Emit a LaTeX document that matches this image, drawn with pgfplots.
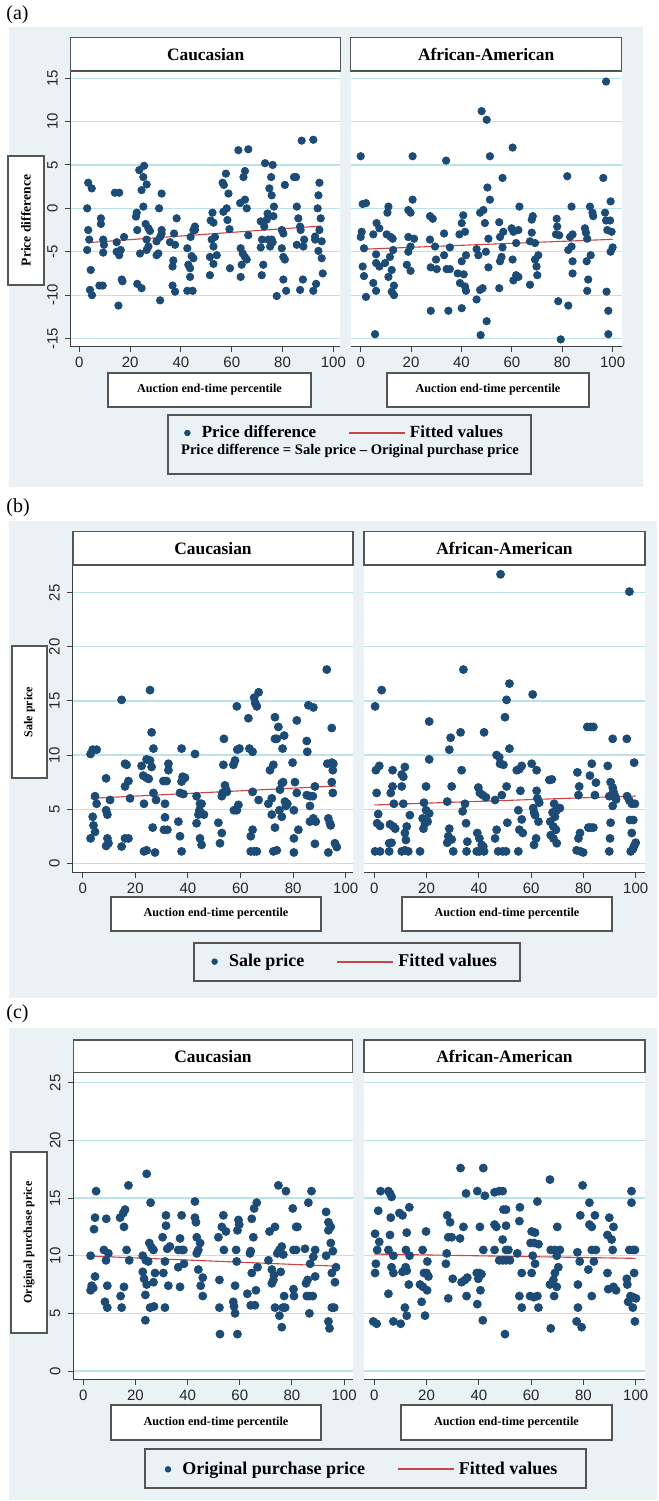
\documentclass[border=0pt]{standalone}
\usepackage{fontspec}
\setmainfont{Liberation Serif}
\setsansfont{Liberation Sans}
\usepackage{pgfplots}
\pgfplotsset{compat=1.18}
\definecolor{bgc}{RGB}{234,242,245}
\definecolor{dotc}{RGB}{28,76,117}
\definecolor{fitc}{RGB}{204,68,68}
\definecolor{gridc}{RGB}{188,226,236}
\definecolor{boxc}{RGB}{85,85,85}
\pgfplotsset{
 panel/.style={scale only axis, clip=false,
   axis background/.style={fill=white},
   axis x line=bottom, axis y line=left,
   axis line style={-, draw=black!75, line width=0.5pt},
   tick align=outside, major tick length=2.6pt,
   tick style={black!75, line width=0.5pt},
   xtick={0,20,...,100}, ymajorgrids=true,
   grid style={gridc, line width=0.6pt},
   tick label style={font=\sffamily\fontsize{7.5}{8}\selectfont, text=black!85},
   /pgf/number format/assume math mode=true,
   yticklabel style={xshift=-6.5pt, rotate=90, anchor=center},
   xticklabel shift=-1pt, yticklabel shift=0pt,
 },
 noy/.style={y axis line style={draw=none}, ytick style={draw=none}, yticklabels={,,,,,,,,}},
 dots/.style={only marks, mark=*, mark size=#1, mark options={draw=dotc, fill=dotc}, forget plot},
 fit/.style={fitc, line width=0.55pt, forget plot},
 leg/.style={legend columns=2, legend style={at={#1}, anchor=center, draw=none, fill=none,
   /tikz/every even column/.append style={column sep=14pt}}},
}
\newcommand{\legdot}{\addlegendimage{legend image code/.code={\fill[opacity=0] (0pt,-1pt) rectangle (8pt,1pt); \fill[dotc] (3pt,0pt) circle (1.4pt);}}}
\newcommand{\legline}{\addlegendimage{legend image code/.code={\draw[fitc, line width=0.9pt] (0pt,0pt) -- (28pt,0pt);}}}
\begin{document}
\begin{tikzpicture}
\begin{scope}[x=0.5pt,y=-0.5pt]
\useasboundingbox[fill=white] (0,0) rectangle (659,1501);
\fill[bgc] (9,27) rectangle (643,487);
\fill[bgc] (9,521) rectangle (657,998);
\fill[bgc] (9,1028) rectangle (657,1500);
\node[font=\fontsize{10}{12}\selectfont, anchor=west, inner sep=0pt] at (6,15) {(a)};
\node[font=\fontsize{10}{12}\selectfont, anchor=west, inner sep=0pt] at (6,508) {(b)};
\node[font=\fontsize{10}{12}\selectfont, anchor=west, inner sep=0pt] at (6,1014) {(c)};
\end{scope}

% ---------------- (a) ----------------
\begin{axis}[panel, at={(35.35pt,-173.35pt)}, anchor=south west,
  width=134.65pt, height=137.85pt, xmin=-3.39, xmax=102.6, ymin=-15.94, ymax=15.82,
  ytick={-15,-10,...,15}, leg={(1.0149,-0.313)},
  legend style={font=\bfseries\fontsize{8.5}{10}\selectfont}]
\addplot[dots=1.85pt] coordinates {(3.5,2.95)(4.9,2.3)(3.1,0)(3.5,-2.5)(3.9,-3.6)(3.1,-4.8)(4.5,-7.1)(4.2,-9.4)(5,-10)(7.9,-8.9)(9.2,-8.9)(8.5,-1.15)(8.5,-1.8)(9.4,-3.6)(9.7,-4.2)(9.4,-5.1)(14,1.8)(15.7,1.8)(14.7,-3.9)(14.7,-5)(15.7,-5.4)(16.3,-4.8)(15.4,-11.2)(16.7,-8.2)(17,-8.4)(17.6,-3.3)(22.6,-0.5)(22.3,-0.95)(22.8,-2.5)(23.9,-5.2)(22.8,-8.7)(24.5,-9.2)(23.6,4.4)(25.5,4.9)(25.2,3.6)(24.5,2.1)(25.2,0.2)(26.5,2.75)(26.1,-1.8)(27.2,-2.3)(27.8,-2.6)(26.5,-3.6)(27.2,-4.4)(26.5,-4.8)(31.4,0)(32.4,1.7)(32.4,-2.5)(30.4,-3.8)(31.1,-5.2)(30.4,-5.4)(31.8,-10.6)(32.4,-2.9)(31.8,-3.3)(35.7,-3.9)(37.3,-2.9)(38.3,-1.15)(36.7,-6.7)(37,-6)(37.7,-4.2)(36.7,-8.9)(37.7,-9.6)(42.5,-4.6)(42.9,-6.5)(43.6,-6.9)(43.6,-7.9)(44.2,-5.5)(44.9,-5.75)(43.8,-3.3)(44.9,-2.5)(45.5,-2.1)(45.5,-2.5)(42.5,-9.5)(44.6,-9.5)(51.4,-5.6)(51.4,-7.7)(52.4,-0.5)(51.7,-1.4)(52.8,-1.65)(52.1,-3.6)(52.8,-4.4)(53.4,-3.3)(54.1,-5.4)(52.8,-6.4)(56.4,2.95)(57.7,4)(56.9,2.7)(58.7,1.7)(56.7,-0.4)(58,0)(58.3,-1.35)(59.1,-2.4)(59.3,-6.9)(62.6,6.7)(66.5,6.8)(65.2,4.3)(64.6,3.6)(63.3,0.6)(65.2,1)(65.9,0)(66.5,-3.1)(63.5,-4.6)(64.3,-5.2)(65.2,-5.6)(65.9,-5.9)(63.9,-6.5)(63.5,-7.9)(71.4,-4.5)(71.9,-3.6)(71.4,-1.5)(71.8,-7.7)(72.4,-6.5)(73.1,5.2)(72.8,-2.1)(73.8,-1.3)(74.1,-0.6)(74.4,-3.6)(75.1,-4.4)(74.8,2.3)(75.7,1.5)(75.5,3.6)(76.1,5)(76.6,0.2)(76.4,-0.9)(75.7,-3.6)(77.7,-10.1)(76.1,-3.9)(79.7,-2.5)(80.3,-2.9)(79.7,-4.6)(80.3,-5.6)(80.9,-5.9)(80.3,-8.2)(81.4,-9.5)(80.9,2.7)(84.5,3.6)(85.3,3.6)(85.6,0.2)(85.6,-4.2)(86.2,-1.15)(86.9,-2.1)(87.1,-2.5)(87.5,7.8)(86.9,-9.4)(88,-8.2)(88.2,-4.4)(88.5,-3.6)(92.1,7.9)(92.8,-3.25)(92.8,-3.6)(93.2,-8.7)(92.1,-9.5)(93.8,0)(94.5,2.95)(94.1,1.5)(95,-1.15)(94.5,-2.5)(94.1,-4.9)(95.4,-3.8)(95.4,-5.75)(95.8,-7.5)};
\addplot[fit] coordinates {(3.5,-3.95) (95.4,-2.03)};
\legdot \addlegendentry{Price difference}
\legline \addlegendentry{Fitted values}
\end{axis}
\begin{axis}[panel, noy, at={(175.35pt,-173.35pt)}, anchor=south west,
  width=135.5pt, height=137.85pt, xmin=-3.97, xmax=103.6, ymin=-15.94, ymax=15.82,
  ytick={-15,-10,...,15}]
\addplot[dots=1.85pt] coordinates {(0,6.0)(0.8,0.5)(2.1,0.6)(0.4,-2.7)(0,-3.3)(1.3,-4.6)(0.8,-6.7)(1.3,-7.8)(2.1,-10.2)(5.7,-14.5)(5,-3.0)(6.3,-1.7)(7.4,-2.3)(6.1,-6.3)(7.4,-6.7)(6.1,-5.3)(5,-8.6)(6.1,-9.5)(9.7,-6.3)(11,0.2)(10.6,-0.5)(10.3,-3.0)(11.9,-3.3)(12.7,-3.5)(11.6,-5.6)(12.9,-4.8)(12.3,-7.1)(11,-7.9)(13.2,-8.9)(12.3,-9.6)(13.2,-10)(18.9,-0.2)(19.8,-0.5)(20.6,1.0)(20.6,6.0)(18.9,-3.3)(21.2,-3.5)(18.9,-5.0)(18.3,-6.5)(19.8,-7.2)(19.8,-4.4)(27.5,-0.9)(28.6,-1.2)(27.5,-3.6)(29.5,-4.4)(29.9,-5.9)(27.8,-6.8)(30.2,-7.0)(27.8,-11.8)(33.1,-2.9)(33.1,-5.4)(33.9,5.5)(35.4,-4.5)(34.1,-7.0)(35.4,-7.0)(34.8,-11.8)(40.1,-1.7)(40.7,-0.8)(39.2,-3.0)(41.4,-2.7)(41.8,-5.4)(40.1,-6.1)(38.5,-7.5)(40.9,-7.6)(39.4,-8.6)(41.4,-9.0)(41.8,-9.5)(40.1,-11.5)(46,-4.7)(46.7,-5.4)(46,-10.5)(47.4,-9.4)(48.4,-9.2)(47.6,-14.6)(48,11.2)(50,10.2)(47.4,-0.5)(48.7,-0.2)(49.3,-1.7)(49.7,-5.0)(50.7,-3.5)(50.7,-6.8)(50,-13.0)(51.3,6.0)(50.3,2.4)(51.3,1.0)(55,-9.2)(55,-1.6)(55.3,-3.3)(56.6,-2.7)(56.3,-4.5)(55.9,-5.6)(55.3,-6.1)(56.3,3.5)(60.3,7.0)(59.9,-2.3)(60.6,-2.7)(62.6,-2.5)(61.7,-4.0)(60.3,-5.9)(61.7,-7.7)(62.6,-7.9)(60.6,-8.3)(63,0.2)(68.3,-0.9)(67.9,-1.3)(67.9,-2.8)(67.2,-3.8)(69.2,-4.0)(70.5,-5.4)(69.2,-5.9)(69.8,-6.7)(70.1,-7.7)(67.2,-8.8)(77.8,-1.2)(78,-2.1)(77.5,-3.0)(78.8,-3.1)(82,3.7)(83.7,0.2)(83.1,-3.3)(84.1,-3.0)(82.4,-4.8)(83.7,-4.4)(84.1,-6.1)(84.1,-7.5)(78.4,-10.7)(82.4,-11.2)(79.4,-15.1)(89,-2.3)(89.4,-2.8)(89.9,-3.5)(91,0.2)(92,-0.5)(92.3,-0.9)(91.3,-5.4)(89.7,-6.1)(90.3,-8.2)(89.9,-9.5)(96.3,3.5)(97.4,14.6)(97,-0.5)(97.4,-1.4)(99,-1.4)(97.9,-2.5)(99.6,-2.7)(99.2,0.8)(100,-4.5)(99.2,-5.0)(97.6,-9.6)(98.3,-11.8)(98.3,-14.5)};
\addplot[fit] coordinates {(0,-4.72) (100,-3.57)};
\end{axis}

% ---------------- (b) ----------------
\begin{axis}[panel, at={(36.35pt,-436.35pt)}, anchor=south west,
  width=140pt, height=153.85pt, xmin=-3.80, xmax=102.66, ymin=-0.87, ymax=27.56,
  ytick={0,5,...,25}, leg={(1.0064,-0.289)},
  legend style={font=\bfseries\fontsize{9}{10}\selectfont}]
\addplot[dots=2pt] coordinates {(3,10.1)(3.8,10.5)(5.3,10.5)(4.7,6.2)(5.3,5.5)(3.8,4.3)(4.1,3.5)(4.7,2.9)(3,2.3)(8.9,7.85)(8.9,4.9)(9.4,4.5)(8.9,1.6)(9.8,1.85)(9.4,2.3)(10.4,5.85)(14.8,15.1)(14.8,1.55)(16.1,2.3)(17.4,2.3)(16.1,9.2)(16.7,9.1)(16.1,7.1)(17.4,7.6)(18,6)(22.4,9)(23,8.1)(24.3,7.9)(25.1,7.8)(23.3,5.5)(24.3,1.2)(23.3,1.1)(24.3,9.6)(25.6,9.5)(26.2,8.9)(25.6,16)(26.2,12.1)(26.9,10.6)(26.9,6.5)(27.9,5.85)(26.6,3.3)(27.5,1)(30.7,7.6)(31.9,7.6)(32.6,9.2)(32.6,8.6)(31.3,5.5)(31.3,4.25)(30.9,3.1)(32.2,3.1)(36.4,3.85)(37,2.5)(37.6,1.1)(37,6.5)(38.3,6.4)(37.6,10.6)(38,8)(38.9,7.9)(37.6,7.55)(42.7,10.1)(43.3,6.2)(43.3,3.7)(44.4,4.9)(44,4.5)(45.2,5.5)(44.6,2.3)(45.2,1.7)(46.1,4.5)(44.6,5.5)(51.6,3.75)(52.9,2.8)(52.2,1.85)(53.2,6.5)(52.9,6.2)(53.7,11.5)(53.5,9.1)(54.1,7.2)(54.5,6.8)(54.8,6.6)(57.3,9.1)(57.9,9.5)(58.6,14.5)(58.8,10.5)(59.6,10.6)(59.2,5.4)(57.5,4.9)(58.6,4.9)(63,13.4)(63.4,10.6)(64.6,10.3)(65.2,15.3)(65.6,14.8)(66.2,14.5)(66.9,15.8)(64.6,6.6)(63.9,2.5)(64.6,3.1)(63.9,1.1)(65.2,1.1)(66.2,1.1)(66.9,5.85)(71.2,8.6)(72.5,9.1)(73.1,13.5)(73.1,11.5)(74.4,12.6)(73.8,11.5)(76.6,11.8)(76,10.6)(70.6,5.5)(71.9,6)(73.1,3.3)(71.9,4.5)(72.5,1.1)(73.8,1.2)(74.8,4.9)(75,6.8)(75.7,7.4)(76.2,7.5)(75.7,4.3)(76.9,5.7)(77.3,5.3)(77.8,5.5)(79.8,9.3)(80.3,4.9)(80.3,2.3)(80.3,1)(80.7,7.5)(81.4,13.2)(81.4,6.5)(82,3.1)(85.2,11.3)(85.4,10.3)(85.8,14.6)(87.7,14.4)(85.2,6.3)(86.4,6.2)(86.4,5.3)(87.5,6.2)(88.3,7.1)(86.4,3.85)(87.7,4.15)(88.6,3.85)(88.3,1.8)(92.8,17.9)(93,9.2)(93.4,4.15)(94,3.7)(94.3,3.5)(93.4,1)(94.7,12.5)(94.7,9.3)(95.3,9.2)(94.7,7.5)(95.1,8.6)(95.1,6.5)(95.9,1.85)(96.6,1.5)};
\addplot[fit] coordinates {(3,6.0) (96.3,7.14)};
\legdot \addlegendentry{Sale price}
\legline \addlegendentry{Fitted values}
\end{axis}
\begin{axis}[panel, noy, at={(182pt,-436.35pt)}, anchor=south west,
  width=140.5pt, height=153.85pt, xmin=-3.94, xmax=103.56, ymin=-0.87, ymax=27.56,
  ytick={0,5,...,25}]
\addplot[dots=2pt] coordinates {(0.3,1.1)(2.2,1.1)(0.3,14.5)(2.8,16)(0.6,8.6)(1.9,9)(0.9,6.5)(1.5,4.55)(1.1,3.7)(2.2,3.45)(5.7,1.1)(5.7,1.85)(6.6,1.9)(6,3.6)(7.3,3.4)(8,3.2)(6.3,6.5)(7,7.1)(7,8.6)(7.5,5.5)(10.5,1.1)(11.7,1.2)(13,1.1)(12.1,2.15)(11.7,2.8)(12.4,3.4)(13.6,4.45)(10.5,7.1)(10.5,8.2)(11.1,8)(11.7,8.9)(11.1,5.5)(17.5,1.1)(18.8,3.2)(19.4,3.7)(18.5,4.15)(19.8,4.9)(21,4.6)(20.4,3.85)(19,5.6)(19.8,7.1)(21,9.6)(21,13.1)(27.9,1.9)(28.3,2.5)(28.7,3.2)(29.6,2.2)(30.2,1.1)(27.9,5.7)(28.7,10.5)(29.2,11.6)(29.6,7.1)(33,12.1)(33.4,8.6)(34.1,17.9)(33.8,4.8)(34.7,5.5)(35.1,3.7)(35.6,2)(35.3,1.1)(39.2,1.1)(40.2,1.1)(39.4,2.8)(40.2,2.3)(41.1,1.7)(41.7,1.55)(42,1.1)(39.8,7)(40.4,6.5)(41.5,6.3)(42.7,6.1)(42,12.1)(46.2,5.85)(46.8,3.1)(46.2,2.3)(47.4,1.1)(49.1,1.1)(50.4,1.1)(48.3,26.7)(46.8,10)(47.8,9.8)(48.1,9.2)(49.4,9.1)(48.8,6.3)(50,13.5)(50.6,15.1)(51.7,16.6)(51.7,10.6)(50.6,7.1)(50.9,3.75)(54.5,8.6)(55.5,8.7)(56.4,9)(55.9,6.7)(55.1,4.9)(56.4,4.05)(55.5,3.1)(56.8,2.8)(55.1,1.1)(60.2,9.2)(60.6,15.6)(62.1,8.6)(60.8,5.1)(61.5,4.45)(61.1,1.7)(61.9,2.3)(62.8,3.85)(62.4,6)(62.1,6.7)(63.1,5.6)(61.1,4.7)(67,7.7)(67.9,7.75)(67.3,3.85)(68.8,5.5)(68.2,4.7)(69.1,4.3)(69.8,4.9)(71,5.1)(68.5,3.4)(69.5,3.1)(67.5,2.6)(68.5,2.3)(69.8,1.85)(77.7,8.4)(78.4,7.1)(78.1,6.3)(78.1,2.3)(78.7,2.8)(77.4,1.2)(78.9,1.1)(79.9,1)(81.5,12.6)(82.8,12.6)(83.8,12.6)(83.2,9.2)(82.5,8.1)(84.8,7.45)(84.4,6.3)(81.9,3.3)(82.8,3.3)(83.8,3.3)(89.3,9)(89.9,1.1)(90.4,3.75)(90.2,2.3)(90.4,7.5)(91.2,7)(91.5,6.6)(92.1,6.2)(89.9,6.2)(91.2,5.3)(91.2,11.5)(92.5,5.9)(96.6,11.5)(97.6,25.1)(99.4,9.3)(96.7,6.2)(97.6,5.8)(98.5,5.5)(99.7,5.5)(97.8,4)(99.1,4)(98.5,2.8)(100,1.9)(99.4,1.6)(98.9,1.3)(98.1,1.1)};
\addplot[fit] coordinates {(0,5.39) (100,6.22)};
\end{axis}

% ---------------- (c) ----------------
\begin{axis}[panel, at={(36.65pt,-689.65pt)}, anchor=south west,
  width=139.7pt, height=153.3pt, xmin=-3.84, xmax=103.3, ymin=-0.72, ymax=25.87,
  ytick={0,5,...,25}, leg={(1.0315,-0.2935)},
  legend style={font=\bfseries\fontsize{9}{10}\selectfont}]
\addplot[dots=2pt] coordinates {(2.8,7.0)(3.2,7.4)(3.8,7.2)(2.8,10)(4.5,8.2)(4.1,12.3)(4.5,13.3)(4.9,15.6)(7.9,10.5)(8.7,9.6)(9.6,10.2)(8.8,13.2)(9.2,7.4)(8.3,6.0)(9.2,5.5)(14.1,13.3)(15.3,13.7)(16,14)(15.6,12.5)(14.3,6.5)(14.7,5.5)(15.6,7.3)(16.6,10.5)(17.3,16.1)(17.6,9.6)(22.8,10)(22.8,8.6)(23.3,8.0)(24,9.6)(23.8,6.6)(24.3,7.5)(24.9,9.5)(24.3,17.1)(25.8,14.6)(23.8,4.4)(25.3,11.1)(26.2,10.7)(26.9,10.5)(25.6,5.5)(27.1,5.6)(27.5,8.5)(26.9,7.7)(30.4,11.6)(31.7,13.5)(31.7,12.6)(31.3,9.5)(30.7,8.5)(31.3,5.5)(32.6,7.4)(32.2,10.6)(33.2,10.8)(37.1,11.5)(37.7,13.5)(36.4,10.5)(37.7,10.5)(38.4,10.5)(37.1,7.3)(36.4,9)(38.6,9.3)(42.8,14.7)(42.8,13.3)(43.2,12.9)(43.5,11.6)(44.1,10.5)(44.8,11.1)(43.5,10.2)(44.1,8.8)(45,7.4)(45.8,8.1)(45.8,6.5)(51.8,11.6)(53.1,12.5)(53.7,13.5)(54.7,12.1)(53.9,10.5)(52.2,7.9)(52.2,5.5)(52.4,3.2)(57.5,6.0)(57.8,5.6)(58.2,5.0)(58.2,7.4)(58.6,10.5)(58.8,9.5)(59.1,12.2)(59.1,3.2)(59.5,13.1)(59.8,12.7)(62.9,6.7)(63.9,10.2)(64.2,10.4)(64.6,13.2)(65.2,11.6)(64.2,5.7)(65.8,5.7)(64.6,8.5)(66.2,7)(65.5,14.1)(66.5,14.6)(66.8,9)(71,9.6)(71.4,12.1)(72.3,8.8)(72.3,7.6)(72.9,7.9)(73.1,8.3)(73.5,12.5)(73.5,5.5)(74.4,10.2)(75.2,10.5)(74.8,16.1)(76.1,10.8)(75.7,8.6)(75.2,4.8)(76.1,3.8)(76.5,5.5)(77.4,5.5)(76.7,10.1)(77,6.5)(77.7,15.6)(80.3,14.1)(80.6,7.1)(80.8,6.5)(80.6,10.5)(81.6,10.5)(81.6,12.5)(82.1,12.5)(85,10.6)(86.3,14.6)(85.4,7.6)(86,7.9)(85.7,6.5)(86.7,6.5)(88,6.5)(86.7,5)(87,9.3)(87.5,15.6)(88.2,9.9)(88.9,10.5)(88.9,8.2)(93.1,13.8)(94,12.9)(94,12.2)(94.9,12.5)(93.1,10)(94,4.3)(94.4,3.7)(94.9,11.1)(95.7,10.4)(95.3,8.5)(95.3,5.5)(96.2,5.5)(96.5,7.7)(96.9,9.0)};
\addplot[fit] coordinates {(2.8,9.97) (96.2,9.10)};
\legdot \addlegendentry{Original purchase price}
\legline \addlegendentry{Fitted values}
\end{axis}
\begin{axis}[panel, noy, at={(182pt,-689.65pt)}, anchor=south west,
  width=140.5pt, height=153.3pt, xmin=-3.94, xmax=103.56, ymin=-0.72, ymax=25.87,
  ytick={0,5,...,25}]
\addplot[dots=2pt] coordinates {(-0.4,4.3)(0.9,4.1)(0.3,11.9)(1.5,13.9)(1.9,11.2)(1.1,10.5)(0.6,9.3)(0.3,8.5)(2.4,15.6)(5.4,15.6)(6,15.4)(6.6,15.1)(6.3,13.3)(6,11.8)(5.4,10.5)(7.3,10)(6.6,9)(7.3,8.5)(5.4,6.7)(7.3,4.3)(10.1,4.1)(9.6,13.7)(10.8,13.5)(13.4,14.2)(12.4,12)(12.1,10.5)(13.5,10)(10.8,8.6)(12,9)(12.4,8.7)(13.2,7.5)(11.7,5.5)(12.4,4.8)(19.8,12.1)(18.5,10.5)(20.3,9.5)(19,8.5)(20,8.5)(20.7,8.2)(17.5,7.5)(18.6,7.3)(20.2,7)(18.1,6)(19.4,4.8)(27.9,13.5)(29,12.9)(28.3,11.6)(29.6,11.6)(27.7,10.2)(27.4,9.3)(28.3,6.3)(30,8)(33,17.6)(34.1,12.5)(32.8,11.5)(35.1,15.4)(33.4,7.7)(34.7,7.9)(35.6,8.1)(35.3,6.5)(39.4,15.6)(41.7,17.6)(42.3,15.2)(40.4,12.5)(41.7,10.5)(39.2,8.5)(40.2,8.5)(41,8.4)(39.8,8)(40.6,7)(39.4,5.8)(41.5,4.4)(46,15.5)(47.8,15.6)(49.1,15.6)(49.4,14)(50.4,14)(46,12.7)(46.7,12.5)(50.4,12.6)(49.1,11.4)(46,10.5)(50.4,10.5)(51.3,10.5)(47.8,9.6)(49.1,9.6)(50.4,9.6)(51.9,9.6)(50,3.2)(55.7,14.2)(55.5,13)(54.7,10.2)(56.4,8.5)(55.5,6.5)(56.4,5.5)(60.2,12.1)(61.5,12)(59.8,11.1)(61.1,11.1)(62.8,11)(60.6,10)(61.5,9.3)(60.2,8.5)(59.6,6.5)(61.1,6.4)(62.4,6.5)(62.4,14.7)(62.8,5.5)(67.2,16.6)(70,12.5)(67.5,10.5)(69.1,10.5)(71,10.5)(69.8,10)(70.4,9)(69.1,8.5)(68.5,7.9)(67.2,7.5)(69.8,7.3)(68.8,6.5)(67.5,3.7)(79.7,16.1)(78.8,13.5)(77.7,10.3)(78.6,9.5)(77.9,7.5)(77.9,5.5)(77.4,4.3)(79.3,3.8)(82.3,14.6)(82.3,12.7)(83.2,12.5)(84.4,13.5)(83.2,10.5)(84.8,10.5)(84,9.5)(81.9,8.8)(83.2,6.5)(89.9,13.3)(91.5,12.5)(89.2,11.8)(90.8,11.4)(91.2,10.5)(89.2,8.5)(89.5,7.1)(91.5,7.3)(92.5,7)(98.4,15.6)(98.4,14.6)(96.6,8)(96.8,7.5)(97.1,6)(98,6.5)(99.1,6.4)(100.1,6.3)(98.9,5.5)(97.6,10.5)(98.9,10.5)(99.7,10.5)(99.4,8.5)(99.7,4.3)};
\addplot[fit] coordinates {(0,10.14) (100,9.77)};
\end{axis}

% ---------------- boxes and labels ----------------
\begin{scope}[x=0.5pt,y=-0.5pt]
\tikzset{bx/.style={draw=boxc, line width=0.75pt, fill=white},
  ttl/.style={font=\bfseries\fontsize{8.7}{10}\selectfont},
  xl/.style={font=\bfseries\fontsize{6.1}{7}\selectfont}}
% titles
\draw[bx] (70.7,37.3) rectangle (340.7,71); \node[ttl] at (205.7,54.2) {Caucasian};
\draw[bx] (350.7,37.3) rectangle (621.7,71); \node[ttl] at (486.2,54.2) {African-American};
\draw[bx] (73,531.7) rectangle (353,565); \node[ttl] at (213,548.4) {Caucasian};
\draw[bx] (364,531.7) rectangle (645,565); \node[ttl] at (504.5,548.4) {African-American};
\draw[bx] (73.3,1040) rectangle (352.7,1072.7); \node[ttl] at (213,1056.4) {Caucasian};
\draw[bx] (364,1040) rectangle (645,1072.7); \node[ttl] at (504.5,1056.4) {African-American};
% y labels
\draw[bx] (8,156) rectangle (44,285); \node[rotate=90, font=\bfseries\fontsize{6.8}{8}\selectfont] at (26,220.5) {Price difference};
\draw[bx] (12,646) rectangle (47,778); \node[rotate=90, font=\bfseries\fontsize{6}{7}\selectfont] at (29.5,712) {Sale price};
\draw[bx] (11,1152) rectangle (47,1333); \node[rotate=90, font=\bfseries\fontsize{6}{7}\selectfont] at (29,1242.5) {Original purchase price};
% x labels
\draw[bx] (108,373) rectangle (311,407); \node[xl] at (209.5,390) {Auction end-time percentile};
\draw[bx] (387,373) rectangle (589,407); \node[xl] at (488,390) {Auction end-time percentile};
\draw[bx] (111,897) rectangle (321,931); \node[xl] at (216,914) {Auction end-time percentile};
\draw[bx] (402,897) rectangle (612,931); \node[xl] at (507,914) {Auction end-time percentile};
\draw[bx] (111,1405) rectangle (321,1440); \node[xl] at (216,1422.5) {Auction end-time percentile};
\draw[bx] (401,1405) rectangle (612,1440); \node[xl] at (506.5,1422.5) {Auction end-time percentile};
% legend frames
\draw[boxc, line width=0.75pt] (168,415) rectangle (531,474);
\node[font=\bfseries\fontsize{7.3}{8}\selectfont] at (350,451) {Price difference = Sale price -- Original purchase price};
\draw[boxc, line width=0.75pt] (194,943) rectangle (520,981);
\draw[boxc, line width=0.75pt] (145,1449) rectangle (586,1488);
\end{scope}
\end{tikzpicture}
\end{document}
